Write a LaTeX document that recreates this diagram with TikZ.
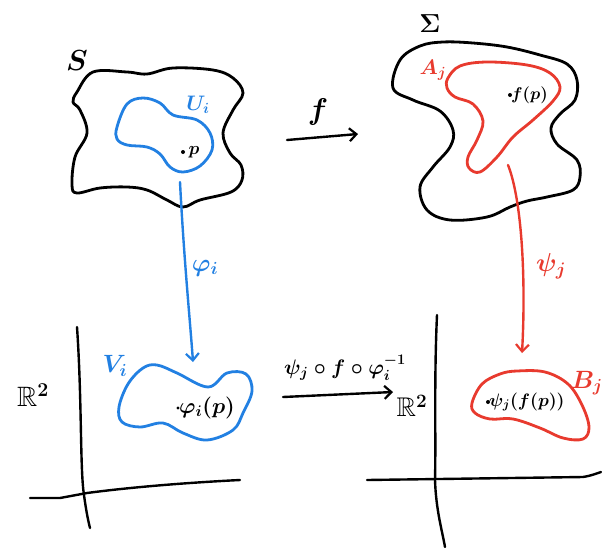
\documentclass[tikz,border=0pt]{standalone}
\usepackage{fix-cm}
\usepackage{amsmath,amssymb}
\usepackage{tikz}
\usetikzlibrary{arrows.meta,positioning}
\usepackage{xcolor}
\definecolor{chartblue}{RGB}{34,128,226}
\definecolor{chartred}{RGB}{232,58,46}

\begin{document}
\begin{tikzpicture}[
      x=1pt, y=-1pt,
      region/.style={line width=2.8pt, line join=round},
      axis/.style={line width=2.4pt, line cap=round},
      mapto/.style={-{Straight Barb[length=7pt,width=13pt,line width=2.2pt]}, line width=2.4pt, line cap=round},
      txt/.style={font=\fontsize{#1}{#1}\selectfont\boldmath, inner sep=1pt}
    ]
    \useasboundingbox (0,0) rectangle (602,547);
    % Surface S with chart domain U_i
    \draw[region] plot[smooth cycle, tension=0.6] coordinates {
      (77,92) (93,72) (127,72) (147,74) (173,68) (213,70) (233,78) (243,93)
      (233,110) (223,133) (230,153) (241,165) (242,180) (231,192) (200,200)
      (183,207) (167,200) (147,190) (127,187) (100,188) (77,193) (72,185)
      (75,157) (87,133) (80,110) (73,102)};
    \draw[region, chartblue] plot[smooth cycle, tension=0.6] coordinates {
      (117,127) (127,104) (143,98) (160,103) (173,115) (197,120) (210,133)
      (212,150) (200,166) (183,172) (170,167) (160,154) (147,147) (127,145)
      (117,139)};
    \node[txt=29] (S) at (77,61) {$S$};
    \node[txt=21, chartblue] (Ui) at (198,105) {$U_i$};
    \fill (183,152) circle (2pt);
    \node[txt=18] (p) at (194,152) {$p$};
    % Surface Sigma with chart domain A_j
    \draw[region] plot[smooth cycle, tension=0.6] coordinates {
      (393,88) (400,60) (420,46) (443,42) (473,43) (507,47) (540,55) (567,64)
      (577,80) (575,100) (560,114) (551,128) (557,144) (577,160) (580,177)
      (573,190) (547,197) (527,201) (510,207) (487,217) (450,220) (427,210)
      (420,187) (433,167) (450,147) (453,130) (440,111) (413,100)};
    \draw[region, chartred] plot[smooth cycle, tension=0.6] coordinates {
      (448,78) (460,66) (487,62) (527,65) (550,73) (560,87) (553,101)
      (533,120) (513,137) (497,157) (480,172) (469,168) (468,157) (477,140)
      (483,121) (473,104) (455,97) (447,88)};
    \node[txt=26] (Sigma) at (430,24) {$\Sigma$};
    \node[txt=21, chartred] (Aj) at (433,70) {$A_j$};
    \fill (510,95) circle (2pt);
    \node[txt=17, right=0pt of {(510,95)}] (fp) {$f(p)$};
    % Left plane R^2 with V_i
    \draw[axis] (77,327) .. controls (82,400) and (80,470) .. (84,495)
      .. controls (86,510) and (88,520) .. (90,528);
    \draw[axis] (30,498) -- (60,498) -- (87,493) .. controls (140,486) and (200,482) .. (240,480);
    \node[txt=28] (R2a) at (33,395) {$\mathbb{R}^2$};
    \draw[region, chartblue] plot[smooth cycle, tension=0.6] coordinates {
      (119,407) (128,384) (143,368) (157,365) (177,373) (208,387) (227,373)
      (246,374) (252,391) (243,413) (233,430) (207,440) (183,433) (163,423)
      (140,427) (122,422)};
    \node[txt=25, chartblue] (Vi) at (115,366) {$V_i$};
    \fill (178,408) circle (1.6pt);
    \node[txt=22, right=0pt of {(178,408)}] (phip) {$\varphi_i(p)$};
    % Right plane R^2 with B_j
    \draw[axis] (437,315) .. controls (434,380) and (436,440) .. (435,480)
      .. controls (436,510) and (442,530) .. (445,547);
    \draw[axis] (367,480) -- (583,477) .. controls (590,476) and (595,474) .. (601,472);
    \node[txt=27] (R2b) at (412,406) {$\mathbb{R}^2$};
    \draw[region, chartred] plot[smooth cycle, tension=0.6] coordinates {
      (472,403) (482,384) (500,374) (517,371) (545,372) (568,384) (582,405)
      (589,427) (583,439) (563,438) (540,428) (513,419) (490,419) (475,413)};
    \node[txt=25, chartred] (Bj) at (587,383) {$B_j$};
    \fill (488,402) circle (2pt);
    \node[txt=18, right=0pt of {(488,402)}] (psifp) {$\psi_j(f(p))$};
    % Maps between the pieces
    \coordinate (fs) at (287,140);
    \coordinate (fe) at (358,134);
    \draw[mapto] (fs) -- (fe);
    \node[txt=30] (flbl) at (318,112) {$f$};
    \coordinate (phis) at (180,182);
    \coordinate (phie) at (193,362);
    \draw[mapto, chartblue] (phis) .. controls (184,260) and (190,320) .. (phie);
    \node[txt=25, chartblue] (philbl) at (205,268) {$\varphi_i$};
    \coordinate (psis) at (508,165);
    \coordinate (psie) at (522,353);
    \draw[mapto, chartred] (psis) .. controls (522,200) and (526,280) .. (psie);
    \node[txt=26, chartred] (psilbl) at (551,266) {$\psi_j$};
    \coordinate (ts) at (283,397);
    \coordinate (te) at (393,392);
    \draw[mapto] (ts) -- (te);
    \node[txt=21] (tlbl) at (345,368) {$\psi_j\circ f\circ\varphi_i^{-1}$};
  \end{tikzpicture}
\end{document}
